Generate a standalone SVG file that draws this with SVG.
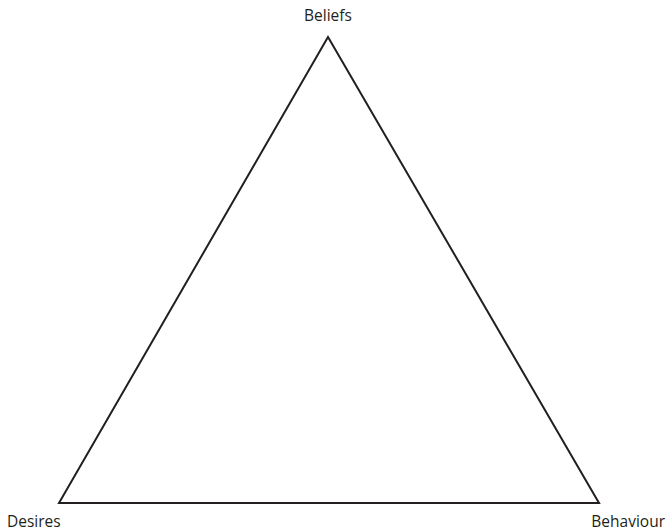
<svg xmlns="http://www.w3.org/2000/svg" width="667" height="532" viewBox="0 0 667 532">
<style>
.lbl{font-family:"Open Sans","Liberation Sans",sans-serif;font-size:15.5px;fill:#231f20}
.edge{fill:none;stroke:#231f20;stroke-width:2;stroke-linejoin:miter}
</style>
<rect width="667" height="532" fill="#fff"/>
<g id="connectors">
<polygon class="edge" points="328,37 599,503 59,503"/>
</g>
<g id="beliefs"><text class="lbl" x="328" y="21" text-anchor="middle">Beliefs</text></g>
<g id="desires"><text class="lbl" x="7" y="527">Desires</text></g>
<g id="behaviour"><text class="lbl" x="665" y="527" text-anchor="end">Behaviour</text></g>
</svg>
